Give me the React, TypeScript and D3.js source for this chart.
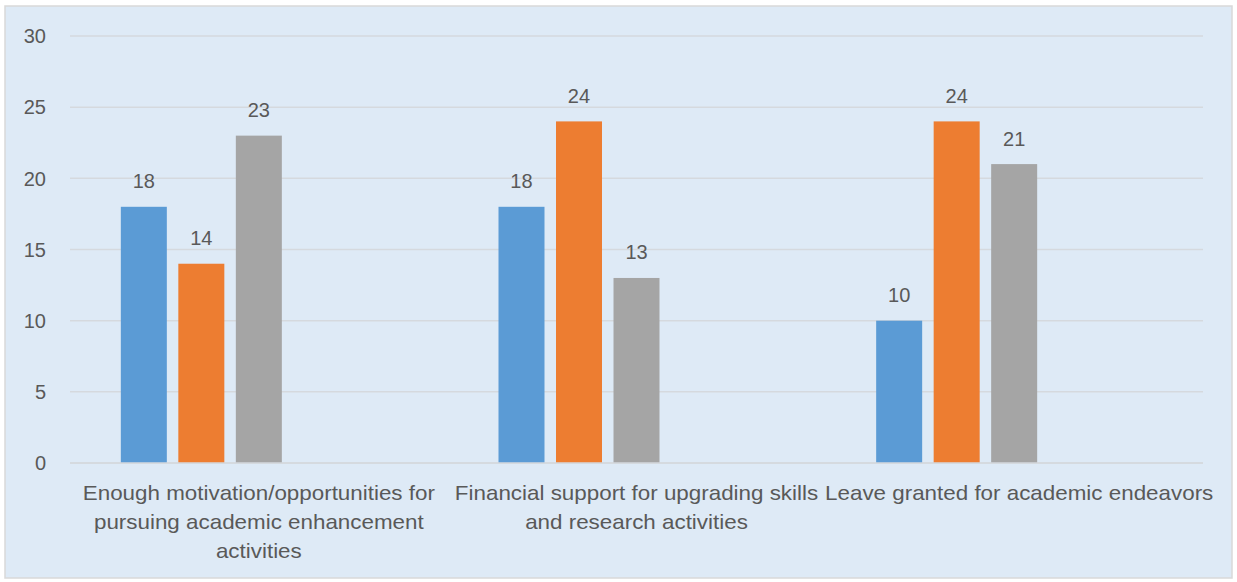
import React from "react";
import * as d3 from "d3";

const categories: string[][] = [
  ["Enough motivation/opportunities for", "pursuing academic enhancement", "activities"],
  ["Financial support for upgrading skills", "and research activities"],
  ["Leave granted for academic endeavors"],
];
const seriesNames = ["Series1", "Series2", "Series3"];
const series1 = [18, 18, 10];
const series2 = [14, 24, 24];
const series3 = [23, 13, 21];
const seriesColors = ["#5b9bd5", "#ed7d31", "#a5a5a5"];
const yTicks = [0, 5, 10, 15, 20, 25, 30];

const W = 1237;
const H = 582;
const plot = { left: 70, right: 1203, top: 36, bottom: 463 };
const textColor = "#595959";
const font = "'Liberation Sans', Arial, sans-serif";
const labelStretch = 1.12;

export default function App() {
  const values = [series1, series2, series3];
  const catIdx = categories.map((_, i) => String(i));
  const x = d3.scaleBand().domain(catIdx).range([plot.left, plot.right]).paddingInner(0).paddingOuter(0);
  const slots = ["0", "1", "2", "3", "4"];
  const xs = d3.scaleBand().domain(slots).range([0, x.bandwidth()]).paddingInner(0.2).paddingOuter(0.884);
  const y = d3.scaleLinear().domain([0, 30]).range([plot.bottom, plot.top]);

  return (
    <svg width={W} height={H} style={{ position: "absolute", left: 0, top: 0 }} fontFamily={font}>
      <rect x={5} y={6} width={1227} height={572} fill="#deeaf6" stroke="#d9d9d9" strokeWidth={1.5} />
      {yTicks.map((t) => (
        <g key={t}>
          <line x1={plot.left} x2={plot.right} y1={y(t)} y2={y(t)} stroke="#d5d9de" strokeWidth={1.5} />
          <text x={46} y={y(t) + 7.3} textAnchor="end" fontSize={20} fill={textColor}>{t}</text>
        </g>
      ))}
      {categories.map((_, ci) =>
        values.map((vals, si) => {
          const bx = (x(String(ci)) as number) + (xs(String(si)) as number);
          const bw = xs.bandwidth();
          const v = vals[ci];
          return (
            <g key={`${ci}-${si}`}>
              <rect x={bx} y={y(v)} width={bw} height={y(0) - y(v)} fill={seriesColors[si]} />
              <text x={bx + bw / 2} y={y(v) - 18.5} textAnchor="middle" fontSize={20} fill={textColor}>{v}</text>
            </g>
          );
        })
      )}
      <line x1={plot.left} x2={plot.right} y1={y(0)} y2={y(0)} stroke="#d5d9de" strokeWidth={1.5} />
      {categories.map((lines, ci) => {
        const cx = (x(String(ci)) as number) + x.bandwidth() / 2 + (ci === 2 ? 5 : 0);
        return (
          <g key={ci}>
            {lines.map((ln, li) => (
              <text
                key={li}
                transform={`translate(${cx},${500 + li * 29}) scale(${labelStretch},1)`}
                textAnchor="middle"
                fontSize={20}
                fill={textColor}
              >
                {ln}
              </text>
            ))}
          </g>
        );
      })}
    </svg>
  );
}
